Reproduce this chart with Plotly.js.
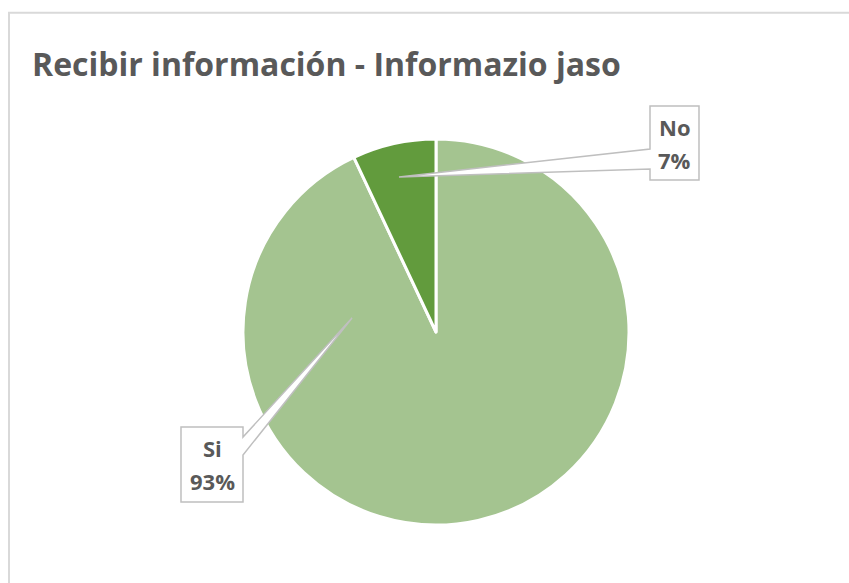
<!DOCTYPE html>
<html>
<head>
<meta charset="utf-8">
<script src="https://cdn.plot.ly/plotly-3.0.1.min.js"></script>
<style>html,body{margin:0;padding:0;background:#fff;}#chart{width:849px;height:583px;}</style>
</head>
<body>
<div id="chart"></div>
<script>
// Data
var categories = ['Si', 'No'];
var values = [93, 7];
var sliceColors = ['#A4C490', '#629B3D'];
var titleText = 'Recibir información - Informazio jaso';

var W = 849, H = 583;
function px(x) { return x / W; }
function py(y) { return 1 - y / H; }

var total = values.reduce(function (a, b) { return a + b; }, 0);
var pctText = values.map(function (v) { return Math.round(v / total * 100) + '%'; });

// Callout layout (box rectangle, wedge attach points on box edge, wedge tip)
var callouts = [
  { box: [181, 427, 243, 502], attach: [[243, 437], [243, 455]], tip: [352, 318], side: 'right' },
  { box: [650, 106, 699, 180], attach: [[650, 169], [650, 149]], tip: [399, 177], side: 'left' }
];

function calloutPath(c) {
  var b = c.box, a = c.attach, t = c.tip;
  var pts;
  if (c.side === 'left') {
    pts = [[b[0], b[1]], [b[2], b[1]], [b[2], b[3]], [b[0], b[3]], a[0], t, a[1]];
  } else {
    pts = [[b[0], b[1]], [b[2], b[1]], a[0], t, a[1], [b[2], b[3]], [b[0], b[3]]];
  }
  return 'M ' + pts.map(function (p) { return px(p[0]).toFixed(5) + ',' + py(p[1]).toFixed(5); }).join(' L ') + ' Z';
}

var shapes = [
  { type: 'line', xref: 'paper', yref: 'paper', x0: px(8), x1: px(849), y0: py(12.7), y1: py(12.7), line: { color: '#D9D9D9', width: 2 } },
  { type: 'line', xref: 'paper', yref: 'paper', x0: px(9), x1: px(9), y0: py(12), y1: py(583), line: { color: '#D9D9D9', width: 2 } }
];
var annotations = [];
var labelFont = { family: 'Open Sans, sans-serif', size: 22, color: '#595959' };
callouts.forEach(function (c, i) {
  shapes.push({ type: 'path', xref: 'paper', yref: 'paper', path: calloutPath(c), fillcolor: '#FFFFFF', line: { color: '#BFBFBF', width: 1.5 } });
  var mx = (c.box[0] + c.box[2]) / 2, my = (c.box[1] + c.box[3]) / 2;
  annotations.push({
    xref: 'paper', yref: 'paper', x: px(mx), y: py(my - 16.5),
    xanchor: 'center', yanchor: 'middle', showarrow: false,
    text: '<b>' + categories[i] + '</b>', font: labelFont
  });
  annotations.push({
    xref: 'paper', yref: 'paper', x: px(mx), y: py(my + 16.5),
    xanchor: 'center', yanchor: 'middle', showarrow: false,
    text: '<b>' + pctText[i] + '</b>', font: labelFont
  });
});

var cx = 436, cy = 332, R = 193;

var trace = {
  type: 'pie',
  labels: categories,
  values: values,
  sort: false,
  direction: 'clockwise',
  rotation: 0,
  textinfo: 'none',
  hoverinfo: 'label+percent',
  marker: { colors: sliceColors, line: { color: '#FFFFFF', width: 3 } },
  domain: { x: [px(cx - R), px(cx + R)], y: [py(cy + R), py(cy - R)] },
  showlegend: false
};

var layout = {
  width: W, height: H,
  margin: { l: 0, r: 0, t: 0, b: 0 },
  paper_bgcolor: '#FFFFFF',
  title: {
    text: '<b>' + titleText + '</b>',
    xref: 'paper', yref: 'paper',
    x: px(32), xanchor: 'left',
    y: py(65), yanchor: 'middle',
    font: { family: 'Open Sans, sans-serif', size: 32, color: '#595959' }
  },
  shapes: shapes,
  annotations: annotations,
  showlegend: false
};

Plotly.newPlot('chart', [trace], layout, { displayModeBar: false, staticPlot: true });
</script>
</body>
</html>
